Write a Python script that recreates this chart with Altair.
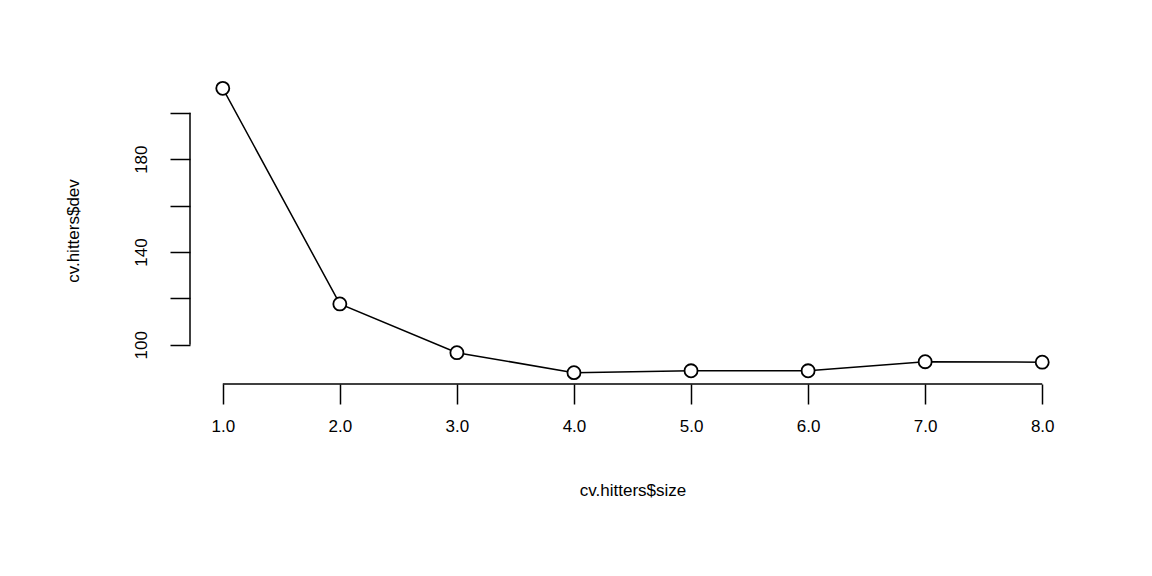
import altair as alt
import pandas as pd

size = [1, 2, 3, 4, 5, 6, 7, 8]
dev = [210.5, 117.6, 96.6, 88.0, 88.8, 88.8, 92.7, 92.5]

df = pd.DataFrame({"size": size, "dev": dev})
font = "Liberation Sans"
xmin, xmax = 0.72, 8.28
ymin, ymax = 83.1, 215.4

xs = alt.Scale(domain=[xmin, xmax], nice=False, zero=False)
ys = alt.Scale(domain=[ymin, ymax], nice=False, zero=False)

xaxis = alt.Axis(values=size, domain=False, grid=False, tickSize=20, tickColor="black",
                 tickWidth=1.5, labelPadding=14, labelFontSize=17, labelFont=font,
                 labelColor="black", title="cv.hitters$size", titleFont=font,
                 titleFontSize=17, titleFontWeight="normal", titlePadding=48,
                 titleColor="black")
yaxis = alt.Axis(values=[100, 120, 140, 160, 180, 200], domain=False, grid=False,
                 tickSize=20, tickColor="black", tickWidth=1.5,
                 labelExpr="(datum.value == 100 || datum.value == 140 || datum.value == 180) ? datum.label : ''",
                 labelAngle=270, labelAlign="center", labelBaseline="bottom",
                 labelPadding=20, labelFontSize=17, labelFont=font, labelColor="black",
                 title="cv.hitters$dev", titleFont=font, titleFontSize=17,
                 titleFontWeight="normal", titlePadding=50, titleColor="black")

base = alt.Chart(df)
line = base.mark_line(color="black", strokeWidth=1.5).encode(
    x=alt.X("size:Q", scale=xs, axis=xaxis),
    y=alt.Y("dev:Q", scale=ys, axis=yaxis),
)
pts = base.mark_point(shape="circle", filled=True, fill="white", stroke="black",
                      strokeWidth=1.8, size=170, opacity=1).encode(
    x=alt.X("size:Q", scale=xs), y=alt.Y("dev:Q", scale=ys))

xline = alt.Chart(pd.DataFrame({"a": [1], "b": [8], "y": [ymin]})).mark_rule(
    color="black", strokeWidth=1.5).encode(
    x=alt.X("a:Q", scale=xs), x2="b:Q", y=alt.Y("y:Q", scale=ys))
yline = alt.Chart(pd.DataFrame({"a": [100], "b": [200], "x": [xmin]})).mark_rule(
    color="black", strokeWidth=1.5).encode(
    y=alt.Y("a:Q", scale=ys), y2="b:Q", x=alt.X("x:Q", scale=xs))

chart = (
    alt.layer(line, pts, xline, yline)
    .properties(width=885, height=307, autosize=alt.AutoSizeParams(type="none"),
                padding={"left": 182, "top": 69, "right": 60, "bottom": 170},
                background="white")
    .configure_view(stroke=None)
)
chart.save("out.html", embed_options={"renderer": "svg", "actions": False})
